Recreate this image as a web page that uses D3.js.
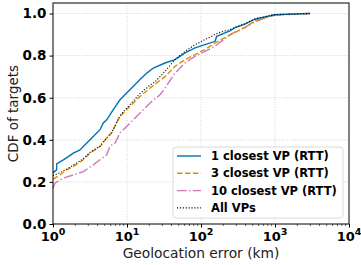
<!DOCTYPE html>
<html><head><meta charset="utf-8">
<script src="https://cdn.jsdelivr.net/npm/d3@7"></script>
<style>body{margin:0;background:#fff}svg{display:block}</style>
</head><body>
<script>
// ---- data (error in km, CDF of targets) ----
const series = ["1 closest VP (RTT)", "3 closest VP (RTT)", "10 closest VP (RTT)", "All VPs"];
const blueX = [1.0,1.12,1.12,1.38,1.61,1.88,2.32,2.71,3.16,3.69,4.32,4.78,5.32,6.53,8.04,9.9,12.2,15.0,18.5,22.7,32.6,44.5,60.8,83,113,155,163,246,288,393,537,733,1000,1680,2970];
const blueY = [0.244,0.257,0.286,0.305,0.32,0.337,0.352,0.376,0.40,0.424,0.448,0.48,0.495,0.543,0.59,0.622,0.654,0.686,0.717,0.741,0.765,0.781,0.813,0.837,0.852,0.868,0.892,0.918,0.933,0.95,0.973,0.984,0.994,0.997,1.0];
const orangeX = [1.0,1.24,1.53,1.88,2.57,3.16,4.32,5.32,6.21,6.88,8.04,9.9,12.2,15.0,20.5,32.6,44.5,60.8,83,113,155,211,288,393,537,733,1000,1680,2970];
const orangeY = [0.213,0.233,0.257,0.273,0.305,0.337,0.368,0.408,0.432,0.465,0.511,0.543,0.575,0.606,0.646,0.70,0.749,0.781,0.805,0.829,0.86,0.886,0.91,0.933,0.965,0.98,0.994,0.997,1.0];
const pinkX = [1.0,1.06,1.38,1.88,2.57,3.5,4.32,5.32,5.89,6.88,8.04,11.0,15.0,20.5,27.9,32.6,44.5,60.8,83,113,155,246,393,537,733,1000,2970];
const pinkY = [0.17,0.194,0.218,0.233,0.249,0.281,0.305,0.329,0.37,0.384,0.432,0.48,0.527,0.575,0.614,0.645,0.717,0.765,0.797,0.82,0.845,0.90,0.935,0.96,0.98,0.993,1.0];
const allX = [1.0,1.24,1.53,1.88,2.57,3.16,4.32,5.32,6.21,8.04,9.9,12.2,15.0,20.5,23.9,32.6,44.5,60.8,83,113,171,246,393,537,1000,2970];
const allY = [0.23,0.244,0.26,0.28,0.31,0.34,0.37,0.41,0.435,0.515,0.55,0.585,0.62,0.66,0.675,0.725,0.781,0.82,0.852,0.876,0.908,0.924,0.952,0.975,0.995,1.0];
const yTicks = [0, 0.2, 0.4, 0.6, 0.8, 1.0];
const xTicks = [1, 10, 100, 1000, 10000];
const xTickExp = ["0", "1", "2", "3", "4"];

const W = 361, H = 265;
const m = {l: 53, r: 12, t: 3, b: 41};
const svg = d3.select("body").append("svg").attr("width", W).attr("height", H);
const x = d3.scaleLog().domain([1, 1e4]).range([m.l, W - m.r]);
const y = d3.scaleLinear().domain([0, 1.05]).range([H - m.b, m.t]);
const font = "DejaVu Sans";

// grid
const g = svg.append("g");
g.selectAll(".gx").data(xTicks.slice(1, -1)).enter().append("line")
  .attr("x1", d => x(d)).attr("x2", d => x(d)).attr("y1", m.t).attr("y2", H - m.b)
  .attr("stroke", "#c8c8c8").attr("stroke-width", 0.8).attr("stroke-dasharray", "1,1.6");
g.selectAll(".gy").data(yTicks.slice(1)).enter().append("line")
  .attr("y1", d => y(d)).attr("y2", d => y(d)).attr("x1", m.l).attr("x2", W - m.r)
  .attr("stroke", "#c8c8c8").attr("stroke-width", 0.8).attr("stroke-dasharray", "1,1.6");

// lines
const styles = [
  {xs: blueX, ys: blueY, c: "#0173B2", w: 1.4, dash: null},
  {xs: orangeX, ys: orangeY, c: "#DE8F05", w: 1.4, dash: "5.5,2.4"},
  {xs: pinkX, ys: pinkY, c: "#CC78BC", w: 1.4, dash: "9.6,2.4,1.5,2.4"},
  {xs: allX, ys: allY, c: "#000000", w: 1.1, dash: "1.1,1.8"}
];
const line = d3.line().x(d => x(d[0])).y(d => y(d[1]));
[2, 1, 0, 3].forEach(i => {
  const s = styles[i];
  const pts = s.xs.map((v, k) => [v, s.ys[k]]);
  svg.append("path").attr("d", line(pts)).attr("fill", "none")
    .attr("stroke", s.c).attr("stroke-width", s.w)
    .attr("stroke-dasharray", s.dash);
});

// axes
const xAxis = svg.append("g").attr("transform", `translate(0,${H - m.b})`)
  .call(d3.axisBottom(x).tickValues(xTicks).tickSize(3.5).tickFormat(""));
xAxis.select(".domain").remove();
const minors = [];
for (let e = 0; e < 4; e++) for (let k = 2; k <= 9; k++) minors.push(k * Math.pow(10, e));
svg.append("g").selectAll("line").data(minors).enter().append("line")
  .attr("x1", d => x(d)).attr("x2", d => x(d)).attr("y1", H - m.b).attr("y2", H - m.b + 2)
  .attr("stroke", "#000").attr("stroke-width", 0.6);
const xl = svg.append("g").selectAll("text").data(xTicks).enter().append("text")
  .attr("x", d => x(d)).attr("y", 241).attr("text-anchor", "middle")
  .attr("font-family", font).attr("font-weight", "bold").attr("font-size", 13);
xl.append("tspan").text("10");
xl.append("tspan").attr("dy", -6).attr("font-size", 9.5).text((d, i) => xTickExp[i]);

const yAxis = svg.append("g").attr("transform", `translate(${m.l},0)`)
  .call(d3.axisLeft(y).tickValues(yTicks).tickSize(3.5).tickPadding(3).tickFormat(d3.format(".1f")));
yAxis.select(".domain").remove();
yAxis.selectAll("text").attr("font-family", font).attr("font-weight", "bold").attr("font-size", 13.5).attr("fill", "#000");

// frame
svg.append("rect").attr("x", m.l).attr("y", m.t).attr("width", W - m.r - m.l).attr("height", H - m.b - m.t)
  .attr("fill", "none").attr("stroke", "#000").attr("stroke-width", 1);

// axis labels
svg.append("text").attr("x", (m.l + W - m.r) / 2).attr("y", 258).attr("text-anchor", "middle")
  .attr("font-family", font).attr("font-size", 13.8).attr("fill", "#222").text("Geolocation error (km)");
svg.append("text").attr("transform", `translate(18,${(m.t + H - m.b) / 2}) rotate(-90)`).attr("text-anchor", "middle")
  .attr("font-family", font).attr("font-size", 13.5).attr("fill", "#222").text("CDF of targets");

// legend
const lg = svg.append("g");
lg.append("rect").attr("x", 173).attr("y", 147).attr("width", 170).attr("height", 71).attr("rx", 3)
  .attr("fill", "#fff").attr("fill-opacity", 0.85).attr("stroke", "#d0d0d0").attr("stroke-width", 0.8);
series.forEach((name, i) => {
  const s = styles[i];
  const yy = 156 + i * 17.3;
  lg.append("line").attr("x1", 177).attr("x2", 201).attr("y1", yy).attr("y2", yy)
    .attr("stroke", s.c).attr("stroke-width", s.w).attr("stroke-dasharray", s.dash);
  lg.append("text").attr("x", 211).attr("y", yy + 4).attr("font-family", font).attr("font-weight", "bold")
    .attr("font-size", 11.5).attr("fill", "#000").text(name);
});
</script>
</body></html>
